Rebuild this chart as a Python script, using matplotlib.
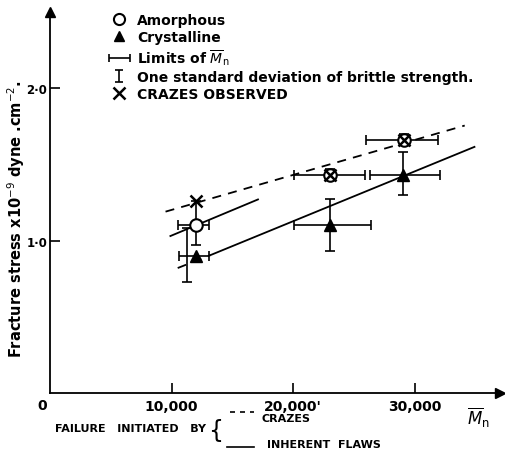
import matplotlib
matplotlib.use('Agg')
import matplotlib.pyplot as plt
import numpy as np
from matplotlib.lines import Line2D
from matplotlib.legend_handler import HandlerErrorbar

plt.rcParams['font.family'] = ['DejaVu Sans']

# amorphous samples: Mn, fracture stress, limits of Mn, one s.d.
amorph_mn = [12000, 23000, 29100]
amorph_sigma = [1.10, 1.43, 1.66]
amorph_mn_lo = [10500, 20100, 26000]
amorph_mn_hi = [13100, 25900, 31900]
amorph_sd_lo = [0.97, 1.40, 1.63]
amorph_sd_hi = [1.26, 1.47, 1.70]

# crystalline samples
cryst_mn = [12000, 23000, 29000]
cryst_sigma = [0.90, 1.10, 1.43]
cryst_mn_lo = [10600, 20100, 26300]
cryst_mn_hi = [13100, 26400, 32100]
cryst_sd_mn = [11300, 23000, 29000]
cryst_sd_lo = [0.73, 0.93, 1.30]
cryst_sd_hi = [1.08, 1.27, 1.58]

# crazes observed
craze_mn = [12000, 23000, 29100]
craze_sigma = [1.26, 1.43, 1.66]

# fitted lines
craze_line_mn = [9500, 34100]
craze_line_sigma = [1.19, 1.755]
flaw_amorph_mn = [9900, 17100]
flaw_amorph_sigma = [1.03, 1.27]
flaw_cryst_mn = [13200, 34900]
flaw_cryst_sigma = [0.905, 1.615]
flaw_cryst_ext_mn = [10500, 13200]
flaw_cryst_ext_sigma = [0.82, 0.905]

W, H = 505, 452
fig = plt.figure(figsize=(W / 100, H / 100), dpi=100)
ax = fig.add_axes([50 / W, 58 / H, 450 / W, 381 / H])
ax.set_xlim(0, 37000)
ax.set_ylim(0, 2.5)

lw = 1.3
ax.plot(craze_line_mn, craze_line_sigma, color='k', ls=(0, (5, 4)), lw=lw, zorder=2)
ax.plot(flaw_amorph_mn, flaw_amorph_sigma, color='k', lw=lw, zorder=2)
ax.plot(flaw_cryst_mn, flaw_cryst_sigma, color='k', lw=lw, zorder=2)
ax.plot(flaw_cryst_ext_mn, flaw_cryst_ext_sigma, color='k', ls=(0, (5, 4)), lw=lw, zorder=2)

eb = dict(fmt='none', ecolor='k', elinewidth=1.2, capsize=3.5, capthick=1.2, zorder=3)
a_mn = np.array(amorph_mn)
a_s = np.array(amorph_sigma)
ax.errorbar(a_mn, a_s, xerr=[a_mn - amorph_mn_lo, np.array(amorph_mn_hi) - a_mn], **eb)
ax.errorbar(a_mn, a_s, yerr=[a_s - amorph_sd_lo, np.array(amorph_sd_hi) - a_s], **eb)
c_mn = np.array(cryst_mn)
c_s = np.array(cryst_sigma)
ax.errorbar(c_mn, c_s, xerr=[c_mn - cryst_mn_lo, np.array(cryst_mn_hi) - c_mn], **eb)
c_mid = (np.array(cryst_sd_lo) + np.array(cryst_sd_hi)) / 2
ax.errorbar(cryst_sd_mn, c_mid, yerr=(np.array(cryst_sd_hi) - np.array(cryst_sd_lo)) / 2, **eb)

ax.plot(amorph_mn, amorph_sigma, 'o', mfc='white', mec='k', ms=9, mew=1.5, ls='none', zorder=4)
ax.plot(cryst_mn, cryst_sigma, '^', color='k', ms=9, ls='none', zorder=4)
ax.plot(craze_mn, craze_sigma, 'x', color='k', ms=9, mew=1.8, ls='none', zorder=5)

# axes with arrows
for side in ['top', 'right']:
    ax.spines[side].set_visible(False)
ax.spines['left'].set_linewidth(1.3)
ax.spines['bottom'].set_linewidth(1.3)
ax.plot(1, 0, '>k', ms=7, transform=ax.transAxes, clip_on=False)
ax.plot(0, 1, '^k', ms=7, transform=ax.transAxes, clip_on=False)

ax.set_xticks([10000, 20000, 30000])
ax.set_xticklabels(['10,000', "20,000'", '30,000'], fontweight='bold', fontsize=10)
ax.set_yticks([1.0, 2.0])
ax.set_yticklabels(['1·0', '2·0'], fontweight='bold', fontsize=8.5)
ax.tick_params(direction='in', length=7, width=1.2)
ax.tick_params(axis='x', pad=4)
ax.tick_params(axis='y', pad=2)
ax.annotate('0', (0, 0), xycoords='axes fraction', xytext=(-8, -12),
            textcoords='offset pixels', ha='center', va='center', fontsize=10,
            fontweight='bold')
ax.annotate(r'$\overline{M}_{\rm n}$', (1, 0), xycoords='axes fraction',
            xytext=(-22, -24), textcoords='offset pixels', ha='center', va='center',
            fontsize=12)
ax.set_ylabel(r'Fracture stress x10$^{-9}$ dyne .cm$^{-2}$.', fontsize=10.5,
              fontweight='bold', va='center')
ax.yaxis.set_label_coords(-34 / 450, 0.46)

# legend
h_circ = Line2D([], [], marker='o', mfc='white', mec='k', ms=8, mew=1.5, ls='none')
h_tri = Line2D([], [], marker='^', color='k', ms=7, ls='none')
h_xbar = ax.errorbar([np.nan], [np.nan], xerr=[[1], [1]], fmt='none', ecolor='k',
                     elinewidth=1.2, capsize=3, capthick=1.2)
h_ybar = ax.errorbar([np.nan], [np.nan], yerr=[[1], [1]], fmt='none', ecolor='k',
                     elinewidth=1.2, capsize=3, capthick=1.2)
h_x = Line2D([], [], marker='x', color='k', ms=8, mew=1.8, ls='none')
ax.legend([h_circ, h_tri, h_xbar, h_ybar, h_x],
          ['Amorphous', 'Crystalline', r'Limits of $\overline{M}_{\rm n}$',
           'One standard deviation of brittle strength.', 'CRAZES OBSERVED'],
          handler_map={h_xbar: HandlerErrorbar(xerr_size=0.75),
                       h_ybar: HandlerErrorbar(yerr_size=0.45)},
          loc='upper left', bbox_to_anchor=(109 / W, 1 - 14 / H),
          bbox_transform=fig.transFigure, frameon=False,
          prop={'size': 10, 'weight': 'bold'},
          handlelength=1.5, handletextpad=0.5, labelspacing=0.22,
          borderpad=0, borderaxespad=0)

# failure key below the axis
fig.text(55 / W, 1 - 429 / H, 'FAILURE   INITIATED   BY', fontsize=8,
         fontweight='bold', ha='left', va='center')
fig.text(216 / W, 1 - 431 / H, '{', fontsize=17, ha='center', va='center')
fig.add_artist(Line2D([230 / W, 254 / W], [1 - 413 / H, 1 - 413 / H], color='k',
                      lw=1.2, ls=(0, (3, 3))))
fig.add_artist(Line2D([227 / W, 254 / W], [1 - 448 / H, 1 - 448 / H], color='k', lw=1.2))
fig.text(262 / W, 1 - 419 / H, 'CRAZES', fontsize=8, fontweight='bold',
         ha='left', va='center')
fig.text(267 / W, 1 - 445 / H, 'INHERENT  FLAWS', fontsize=8, fontweight='bold',
         ha='left', va='center')

fig.savefig('out.png', dpi=100)
